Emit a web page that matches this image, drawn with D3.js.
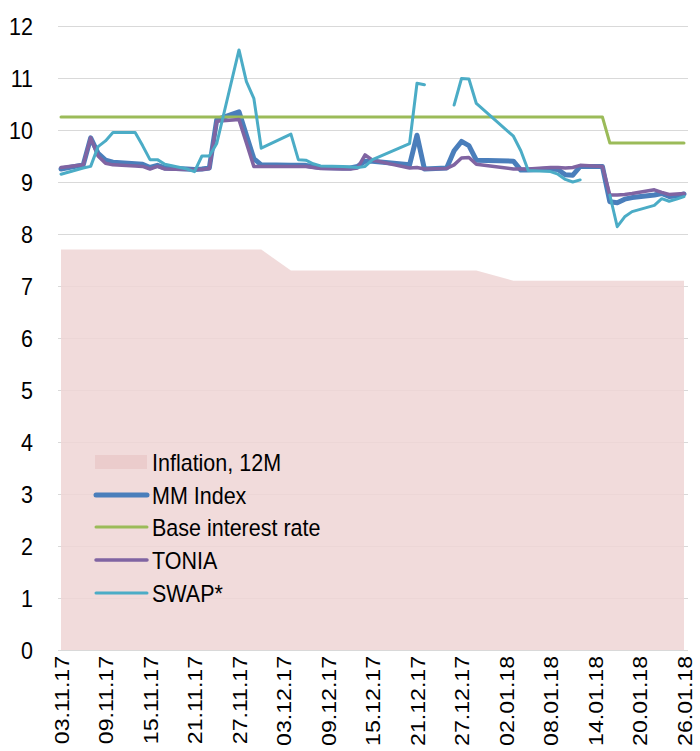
<!DOCTYPE html>
<html>
<head>
<meta charset="utf-8">
<script src="https://cdn.jsdelivr.net/npm/d3@7"></script>
<style>
  body { margin: 0; background: #fff; }
  text { font-family: "Liberation Sans", Arial, sans-serif; fill: #000; }
</style>
</head>
<body>
<svg id="chart" width="700" height="751"></svg>
<script>
// trading days (dd.mm.yy)
var dates = [
  "03.11.17","06.11.17","07.11.17","08.11.17","09.11.17","10.11.17","13.11.17","14.11.17","15.11.17","16.11.17",
  "17.11.17","20.11.17","21.11.17","22.11.17","23.11.17","24.11.17","27.11.17","28.11.17","29.11.17","30.11.17",
  "04.12.17","05.12.17","06.12.17","07.12.17","08.12.17","11.12.17","12.12.17","13.12.17","14.12.17","15.12.17",
  "20.12.17","21.12.17","22.12.17","25.12.17","26.12.17","27.12.17","28.12.17","29.12.17",
  "03.01.18","04.01.18","05.01.18","08.01.18","09.01.18","10.01.18","11.01.18","12.01.18","15.01.18","16.01.18",
  "17.01.18","18.01.18","19.01.18","22.01.18","23.01.18","24.01.18","25.01.18","26.01.18"
];

var inflation = [
  7.7,7.7,7.7,7.7,7.7,7.7,7.7,7.7,7.7,7.7, 7.7,7.7,7.7,7.7,7.7,7.7,7.7,7.7,7.7,7.7,
  7.3,7.3,7.3,7.3,7.3,7.3,7.3,7.3,7.3,7.3, 7.3,7.3,7.3,7.3,7.3,7.3,7.3,7.3,
  7.1,7.1,7.1,7.1,7.1,7.1,7.1,7.1,7.1,7.1, 7.1,7.1,7.1,7.1,7.1,7.1,7.1,7.1
];

var mmIndex = [
  9.25,9.33,9.85,9.55,9.42,9.38,9.35,9.34,9.28,9.32, 9.27,9.25,9.24,9.25,9.27,10.2,10.35,9.9,9.45,9.33,
  9.32,9.32,9.32,9.3,9.28,9.27,9.27,9.3,9.4,9.4, 9.33,9.9,9.25,9.27,9.6,9.78,9.7,9.42,
  9.4,9.23,9.23,9.25,9.24,9.14,9.13,9.3,9.3,8.62, 8.6,8.67,8.7,8.75,8.78,8.72,8.73,8.77
];

var baseRate = [
  10.25,10.25,10.25,10.25,10.25,10.25,10.25,10.25,10.25,10.25, 10.25,10.25,10.25,10.25,10.25,10.25,10.25,10.25,10.25,10.25,
  10.25,10.25,10.25,10.25,10.25,10.25,10.25,10.25,10.25,10.25, 10.25,10.25,10.25,10.25,10.25,10.25,10.25,10.25,
  10.25,10.25,10.25,10.25,10.25,10.25,10.25,10.25,10.25,9.75, 9.75,9.75,9.75,9.75,9.75,9.75,9.75,9.75
];

var tonia = [
  9.28,9.33,9.85,9.5,9.36,9.33,9.31,9.3,9.25,9.3, 9.25,9.24,9.24,9.24,9.26,10.17,10.2,9.75,9.3,9.3,
  9.3,9.3,9.3,9.28,9.26,9.25,9.25,9.27,9.52,9.42, 9.27,9.28,9.25,9.26,9.33,9.46,9.47,9.34,
  9.25,9.25,9.25,9.28,9.28,9.27,9.28,9.32,9.3,8.75, 8.75,8.76,8.78,8.85,8.8,8.76,8.77,8.78
];

var swap = [
  9.15,9.27,9.3,9.68,9.79,9.95,9.95,9.7,9.43,9.43, 9.34,9.25,9.2,9.5,9.5,9.74,11.54,10.93,10.61,9.65,
  9.92,9.43,9.42,9.35,9.31,9.3,9.29,9.28,9.3,9.43, 9.74,10.9,10.87,null,10.48,10.99,10.98,10.51,
  9.88,9.6,9.22,9.2,9.15,9.05,9.0,9.04,null,8.75, 8.14,8.33,8.43,8.55,8.68,8.63,8.67,8.72
];

var tickLabels = ["03.11.17","09.11.17","15.11.17","21.11.17","27.11.17","03.12.17","09.12.17","15.12.17",
  "21.12.17","27.12.17","02.01.18","08.01.18","14.01.18","20.01.18","26.01.18"];
var yTicks = [0,1,2,3,4,5,6,7,8,9,10,11,12];

var parse = d3.timeParse("%d.%m.%y");
var svg = d3.select("#chart");
var stretch = "scale(1,1.1)"; // reference text is a bit taller than wide

var x = d3.scaleTime()
  .domain([parse(dates[0]), parse(dates[dates.length - 1])])
  .range([61, 684]);
var y = d3.scaleLinear().domain([0, 12]).range([650, 26]);

function rows(values) {
  return dates.map(function (d, i) { return {t: parse(d), v: values[i]}; });
}

// grid
svg.append("g").selectAll("line").data(yTicks).enter().append("line")
  .attr("x1", 58).attr("x2", 688)
  .attr("y1", function (d) { return y(d) + 0.5; })
  .attr("y2", function (d) { return y(d) + 0.5; })
  .attr("stroke", "#d9d9d9").attr("stroke-width", 1);

// inflation area
var area = d3.area()
  .x(function (d) { return x(d.t); })
  .y0(y(0))
  .y1(function (d) { return y(d.v); });
svg.append("path").datum(rows(inflation))
  .attr("d", area)
  .attr("fill", "#eed5d5").attr("fill-opacity", 0.85);

var line = d3.line()
  .defined(function (d) { return d.v != null; })
  .x(function (d) { return x(d.t); })
  .y(function (d) { return y(d.v); });

var series = [
  {name: "MM Index", values: mmIndex, color: "#4a7ebb", width: 5},
  {name: "Base interest rate", values: baseRate, color: "#9bbb59", width: 3},
  {name: "TONIA", values: tonia, color: "#8064a2", width: 3.5},
  {name: "SWAP*", values: swap, color: "#4bacc6", width: 3}
];

series.forEach(function (s) {
  svg.append("path").datum(rows(s.values))
    .attr("d", line)
    .attr("fill", "none")
    .attr("stroke", s.color)
    .attr("stroke-width", s.width)
    .attr("stroke-linejoin", "round")
    .attr("stroke-linecap", "round");
});

// y axis labels
svg.append("g").selectAll("text").data(yTicks).enter().append("text")
  .attr("transform", function (d) { return "translate(33," + y(d) + ") " + stretch; })
  .attr("dy", "0.36em")
  .attr("text-anchor", "end")
  .style("font-size", "21.5px")
  .text(function (d) { return d; });

// x axis labels
svg.append("g").selectAll("text").data(tickLabels).enter().append("text")
  .attr("transform", function (d) { return "translate(" + x(parse(d)) + ",656) " + stretch + " rotate(-90)"; })
  .attr("dy", "0.36em")
  .attr("text-anchor", "end")
  .style("font-size", "21px")
  .text(function (d) { return d; });

// legend
var legend = svg.append("g");
var ly = [462, 495, 527, 560, 593];
legend.append("rect")
  .attr("x", 95).attr("y", ly[0] - 7).attr("width", 52).attr("height", 14)
  .attr("fill", "#ebcccc");
legend.append("text").attr("transform", "translate(152," + ly[0] + ") " + stretch)
  .attr("dy", "0.36em")
  .style("font-size", "21.5px").text("Inflation, 12M");
series.forEach(function (s, i) {
  legend.append("line")
    .attr("x1", 96).attr("x2", 147)
    .attr("y1", ly[i + 1]).attr("y2", ly[i + 1])
    .attr("stroke", s.color).attr("stroke-width", s.width)
    .attr("stroke-linecap", "round");
  legend.append("text").attr("transform", "translate(152," + ly[i + 1] + ") " + stretch)
    .attr("dy", "0.36em")
    .style("font-size", "21.5px").text(s.name);
});
</script>
</body>
</html>
